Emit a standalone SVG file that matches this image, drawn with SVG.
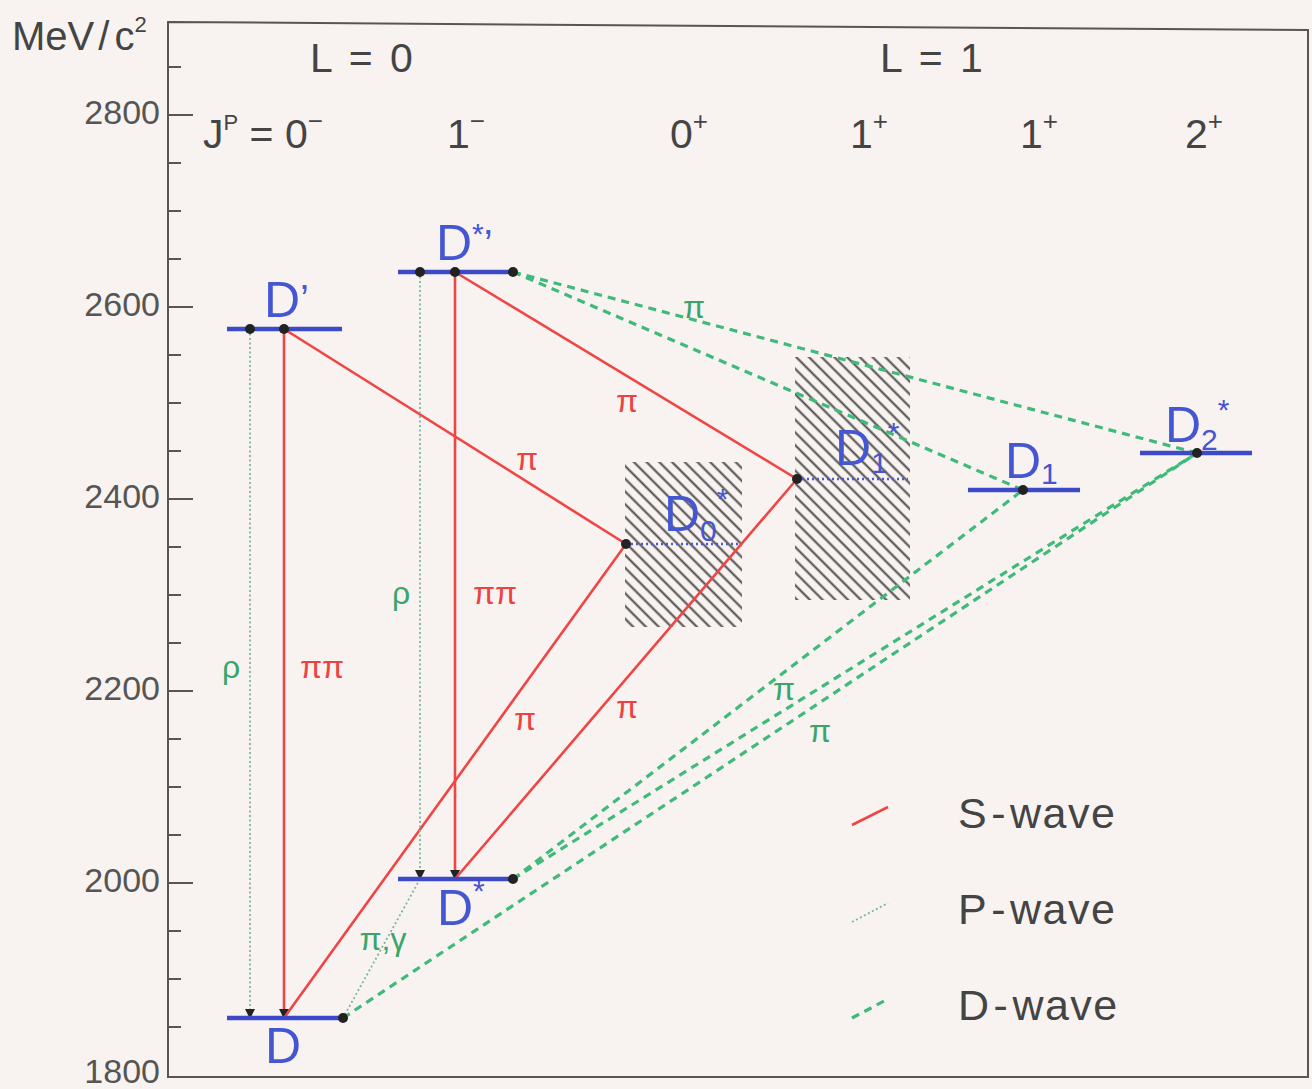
<svg xmlns="http://www.w3.org/2000/svg" width="1312" height="1089" viewBox="0 0 1312 1089">
<style>
text{font-family:"Liberation Sans","DejaVu Sans",sans-serif}
.ax{stroke:#5a5555;stroke-width:2;fill:none}
.tk{font-size:34px;fill:#555;text-anchor:end}
.hd{font-size:41px;fill:#444}
.lvl{stroke:#3c4ac8;stroke-width:4.5}
.bd{stroke:#4a5ad0;stroke-width:2.5;stroke-dasharray:2 3}
.lab{font-size:50px;fill:#4556d2}
.s{stroke:#f04545;stroke-width:2.6;fill:none}
.p{stroke:#7cb896;stroke-width:1.8;stroke-dasharray:2 2.5;fill:none}
.d{stroke:#3fba7a;stroke-width:3.2;stroke-dasharray:8 6;fill:none}
.rl{font-size:32px;fill:#f04040;text-anchor:middle}
.gl{font-size:32px;fill:#3aa56a;text-anchor:middle}
.dot{fill:#222}
.lg{font-size:43px;fill:#444;letter-spacing:1.5px}
</style>
<defs>
<pattern id="hatch" patternUnits="userSpaceOnUse" width="9" height="9" patternTransform="rotate(-45)">
<line x1="4.5" y1="0" x2="4.5" y2="9" stroke="#4a4a4a" stroke-width="2"/>
</pattern>
<marker id="arr" markerWidth="12" markerHeight="10" refX="9" refY="5" orient="auto" markerUnits="userSpaceOnUse">
<path d="M0,0 L10,5 L0,10 Z" fill="#222"/>
</marker>
</defs>
<rect width="1312" height="1089" fill="#f8f3f0"/>

<g id="axes">
<path class="ax" d="M168,22 L1308,30 L1308,1077 L168,1077 Z"/>
<g stroke="#5a5555" stroke-width="2">
<line x1="168" y1="115" x2="193" y2="115"/>
<line x1="168" y1="307" x2="193" y2="307"/>
<line x1="168" y1="499" x2="193" y2="499"/>
<line x1="168" y1="691" x2="193" y2="691"/>
<line x1="168" y1="883" x2="193" y2="883"/>
<line x1="168" y1="67" x2="181" y2="67"/>
<line x1="168" y1="163" x2="181" y2="163"/>
<line x1="168" y1="211" x2="181" y2="211"/>
<line x1="168" y1="259" x2="181" y2="259"/>
<line x1="168" y1="355" x2="181" y2="355"/>
<line x1="168" y1="403" x2="181" y2="403"/>
<line x1="168" y1="451" x2="181" y2="451"/>
<line x1="168" y1="547" x2="181" y2="547"/>
<line x1="168" y1="595" x2="181" y2="595"/>
<line x1="168" y1="643" x2="181" y2="643"/>
<line x1="168" y1="739" x2="181" y2="739"/>
<line x1="168" y1="787" x2="181" y2="787"/>
<line x1="168" y1="835" x2="181" y2="835"/>
<line x1="168" y1="931" x2="181" y2="931"/>
<line x1="168" y1="979" x2="181" y2="979"/>
<line x1="168" y1="1027" x2="181" y2="1027"/>
</g>
<text class="tk" x="160" y="124">2800</text>
<text class="tk" x="160" y="316">2600</text>
<text class="tk" x="160" y="508">2400</text>
<text class="tk" x="160" y="700">2200</text>
<text class="tk" x="160" y="892">2000</text>
<text class="tk" x="160" y="1083" font-size="32">1800</text>
<text x="12" y="50" font-size="40" fill="#444">MeV<tspan dx="4">/</tspan><tspan dx="5">c</tspan><tspan font-size="22" dy="-18">2</tspan></text>
</g>

<g id="headers">
<text class="hd" x="310" y="72" letter-spacing="3">L = 0</text>
<text class="hd" x="880" y="72" letter-spacing="3">L = 1</text>
<text class="hd" x="203" y="148">J<tspan font-size="22" dy="-18">P</tspan><tspan dy="18"> = 0</tspan><tspan font-size="26" dy="-18">−</tspan></text>
<text class="hd" x="447" y="148">1<tspan font-size="26" dy="-18">−</tspan></text>
<text class="hd" x="670" y="148">0<tspan font-size="26" dy="-18">+</tspan></text>
<text class="hd" x="850" y="148">1<tspan font-size="26" dy="-18">+</tspan></text>
<text class="hd" x="1020" y="148">1<tspan font-size="26" dy="-18">+</tspan></text>
<text class="hd" x="1185" y="148">2<tspan font-size="26" dy="-18">+</tspan></text>
</g>

<g id="node-D0star">
<rect x="625" y="462" width="117" height="165" fill="url(#hatch)"/>
<line class="bd" x1="626" y1="544" x2="740" y2="544"/>
<text class="lab" x="664" y="531">D<tspan font-size="30" dy="10">0</tspan><tspan font-size="30" dy="-32">*</tspan></text>
</g>
<g id="node-D1star">
<rect x="795" y="357" width="115" height="243" fill="url(#hatch)"/>
<line class="bd" x1="797" y1="479" x2="908" y2="479"/>
<text class="lab" x="835" y="465">D<tspan font-size="30" dy="8">1</tspan><tspan font-size="30" dy="-30">*</tspan></text>
</g>

<g id="connectors">
<line class="s" x1="284" y1="329" x2="284" y2="1018" marker-end="url(#arr)"/>
<line class="s" x1="284" y1="329" x2="626" y2="544"/>
<line class="s" x1="455" y1="272" x2="455" y2="879" marker-end="url(#arr)"/>
<line class="s" x1="455" y1="272" x2="797" y2="479"/>
<line class="s" x1="626" y1="544" x2="284" y2="1018"/>
<line class="s" x1="797" y1="479" x2="455" y2="879"/>
<line class="p" x1="250" y1="329" x2="250" y2="1018" marker-end="url(#arr)"/>
<line class="p" x1="420" y1="272" x2="420" y2="879" marker-end="url(#arr)"/>
<line class="p" x1="420" y1="879" x2="343" y2="1018"/>
<line class="d" x1="513" y1="272" x2="1197" y2="453"/>
<line class="d" x1="513" y1="272" x2="1023" y2="490"/>
<line class="d" x1="513" y1="879" x2="1023" y2="490"/>
<line class="d" x1="513" y1="879" x2="1197" y2="453"/>
<line class="d" x1="343" y1="1018" x2="1197" y2="453"/>
<text class="rl" x="322" y="678">ππ</text>
<text class="rl" x="527" y="470">π</text>
<text class="rl" x="495" y="604">ππ</text>
<text class="rl" x="627" y="412">π</text>
<text class="rl" x="525" y="730">π</text>
<text class="rl" x="627" y="718">π</text>
<text class="gl" x="231" y="678">ρ</text>
<text class="gl" x="401" y="604">ρ</text>
<text class="gl" x="383" y="950">π,γ</text>
<text class="gl" x="694" y="318">π</text>
<text class="gl" x="784" y="700">π</text>
<text class="gl" x="820" y="742">π</text>
</g>

<g id="node-D">
<line class="lvl" x1="227" y1="1018" x2="343" y2="1018"/>
<circle class="dot" cx="343" cy="1018" r="5"/>
<text class="lab" x="265" y="1063">D</text>
</g>
<g id="node-Dstar">
<line class="lvl" x1="398" y1="879" x2="513" y2="879"/>
<circle class="dot" cx="513" cy="879" r="5"/>
<text class="lab" x="437" y="925">D<tspan font-size="30" dy="-24">*</tspan></text>
</g>
<g id="node-Dprime">
<line class="lvl" x1="227" y1="329" x2="342" y2="329"/>
<circle class="dot" cx="250" cy="329" r="5"/>
<circle class="dot" cx="284" cy="329" r="5"/>
<text class="lab" x="264" y="317">D<tspan font-size="40" dy="-4">’</tspan></text>
</g>
<g id="node-Dstarprime">
<line class="lvl" x1="398" y1="272" x2="513" y2="272"/>
<circle class="dot" cx="420" cy="272" r="5"/>
<circle class="dot" cx="455" cy="272" r="5"/>
<circle class="dot" cx="513" cy="272" r="5"/>
<text class="lab" x="436" y="260">D<tspan font-size="30" dy="-16">*</tspan><tspan font-size="40" dy="14">’</tspan></text>
</g>
<g id="node-D0star-dot"><circle class="dot" cx="626" cy="544" r="5"/></g>
<g id="node-D1star-dot"><circle class="dot" cx="797" cy="479" r="5"/></g>
<g id="node-D1">
<line class="lvl" x1="968" y1="490" x2="1080" y2="490"/>
<circle class="dot" cx="1023" cy="490" r="5"/>
<text class="lab" x="1005" y="478">D<tspan font-size="30" dy="6">1</tspan></text>
</g>
<g id="node-D2star">
<line class="lvl" x1="1140" y1="453" x2="1252" y2="453"/>
<circle class="dot" cx="1197" cy="453" r="5"/>
<text class="lab" x="1165" y="442">D<tspan font-size="30" dy="8">2</tspan><tspan font-size="30" dy="-30">*</tspan></text>
</g>

<g id="legend">
<line class="s" x1="852" y1="825" x2="888" y2="807"/>
<text class="lg" x="958" y="828">S<tspan dx="3">-</tspan><tspan dx="3">wave</tspan></text>
<line class="p" x1="852" y1="922" x2="888" y2="903"/>
<text class="lg" x="958" y="924">P<tspan dx="3">-</tspan><tspan dx="3">wave</tspan></text>
<line class="d" x1="852" y1="1018" x2="888" y2="999"/>
<text class="lg" x="958" y="1020">D<tspan dx="3">-</tspan><tspan dx="3">wave</tspan></text>
</g>
</svg>
